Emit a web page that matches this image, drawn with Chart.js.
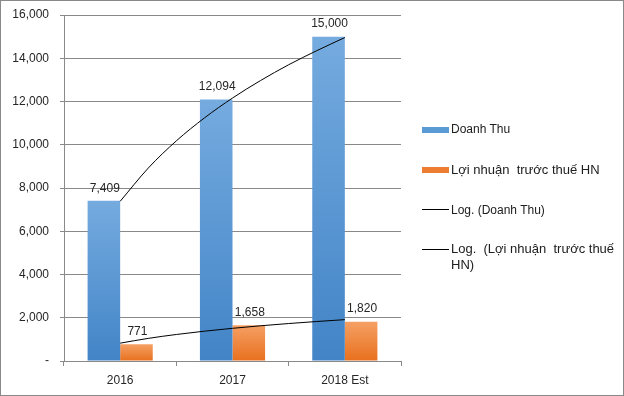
<!DOCTYPE html>
<html>
<head>
<meta charset="utf-8">
<script src="https://cdn.jsdelivr.net/npm/chart.js@4"></script>
<style>
  html, body { margin: 0; padding: 0; background: #fff; }
  #wrap { position: relative; width: 624px; height: 396px; font-family: "Liberation Sans", Arial, sans-serif; color: #404040; }
  #frame { position: absolute; left: 0; top: 0; width: 624px; height: 396px; box-sizing: border-box; border: 1px solid #898989; pointer-events: none; }
  #chart { position: absolute; left: 0; top: 0; }
  .lg-box { position: absolute; left: 422px; width: 27px; height: 6px; }
  .lg-line { position: absolute; left: 422px; width: 27px; height: 1px; background: #000; }
  .lg-text { position: absolute; left: 451px; line-height: 16px; white-space: nowrap; color: #202020; }
</style>
</head>
<body>
<div id="wrap">
  <canvas id="chart" width="624" height="396"></canvas>
  <div class="lg-box" style="top:127px;background:#5b9bd5;"></div>
  <div class="lg-text" style="top:121px;font-size:12px;">Doanh Thu</div>
  <div class="lg-box" style="top:167px;background:#ed7d31;"></div>
  <div class="lg-text" style="top:162px;font-size:13px;">Lợi nhuận&nbsp; trước thuế HN</div>
  <div class="lg-line" style="top:209px;"></div>
  <div class="lg-text" style="top:202px;font-size:12px;">Log. (Doanh Thu)</div>
  <div class="lg-line" style="top:249px;"></div>
  <div class="lg-text" style="top:241px;font-size:13px;">Log.&nbsp; (Lợi nhuận&nbsp; trước thuế<br>HN)</div>
  <div id="frame"></div>
</div>
<script>
const categories = ["2016", "2017", "2018 Est"];
const doanhThu = [7409, 12094, 15000];
const loiNhuan = [771, 1658, 1820];
// logarithmic trendlines at steps along the category axis
// (1 = 2016, 2 = 2017, 3 = 2018 Est)
const trendX = [1, 1.25, 1.5, 1.75, 2, 2.25, 2.5, 2.75, 3];
const trendDoanhThu = [7384, 8920, 10180, 11240, 12160, 12970, 13700, 14350, 14957];
const trendLoiNhuan = [825, 1046, 1226, 1379, 1511, 1628, 1732, 1826, 1912];
const yMin = 0;
const yMax = 16000;
const yStep = 2000;

const gridColor = "#898989";
const fontFamily = "'Liberation Sans', Arial, sans-serif";

function barGradient(top, bottom) {
    return function (ctx) {
        const chart = ctx.chart;
        if (!chart.chartArea || !ctx.raw) return top;
        const y = chart.scales.y;
        const y0 = y.getPixelForValue(ctx.raw.y);
        const y1 = y.getPixelForValue(0);
        const g = chart.ctx.createLinearGradient(0, y0, 0, y1);
        g.addColorStop(0, top);
        g.addColorStop(1, bottom);
        return g;
    };
}

const valueLabels = {
    id: "valueLabels",
    afterDatasetsDraw(chart) {
        const c = chart.ctx;
        c.save();
        c.font = "12px " + fontFamily;
        c.fillStyle = "#262626";
        c.textAlign = "center";
        c.textBaseline = "middle";
        [0, 1].forEach(function (di) {
            const meta = chart.getDatasetMeta(di);
            meta.data.forEach(function (bar, i) {
                const v = chart.data.datasets[di].data[i].y;
                c.fillText(v.toLocaleString("en-US"), bar.x + 1, bar.y - 12.5);
            });
        });
        c.restore();
    }
};

function barSet(label, values, top, bottom) {
    return {
        label: label,
        data: values.map(function (v, i) { return { x: i + 1, y: v }; }),
        backgroundColor: barGradient(top, bottom),
        categoryPercentage: 0.58,
        barPercentage: 1,
        order: 1
    };
}

function trendLine(label, values) {
    return {
        type: "line",
        label: label,
        data: trendX.map(function (x, i) { return { x: x, y: values[i] }; }),
        borderColor: "#000",
        borderWidth: 1,
        pointRadius: 0,
        fill: false,
        cubicInterpolationMode: "monotone",
        order: 0
    };
}

new Chart(document.getElementById("chart"), {
    type: "bar",
    data: {
        datasets: [
            barSet("Doanh Thu", doanhThu, "#75abdf", "#4284c7"),
            barSet("Lợi nhuận trước thuế HN", loiNhuan, "#f5a064", "#e8701e"),
            trendLine("Log. (Doanh Thu)", trendDoanhThu),
            trendLine("Log. (Lợi nhuận trước thuế HN)", trendLoiNhuan)
        ]
    },
    options: {
        responsive: false,
        animation: false,
        layout: { padding: { top: 15, right: 223, left: 0, bottom: 0 } },
        plugins: {
            legend: { display: false },
            tooltip: { enabled: false }
        },
        scales: {
            x: {
                type: "linear",
                min: 0.5,
                max: categories.length + 0.5,
                offset: false,
                grid: { display: true, drawOnChartArea: false, drawTicks: true, tickLength: 5, offset: true, color: gridColor },
                border: { display: true, color: gridColor },
                ticks: {
                    color: "#262626",
                    padding: 7,
                    maxRotation: 0,
                    font: { family: fontFamily, size: 12 },
                    callback: function (v) { return categories[v - 1]; }
                },
                afterBuildTicks: function (scale) {
                    scale.ticks = categories.map(function (c, i) { return { value: i + 1 }; });
                },
                afterFit: function (scale) { scale.height = 35; scale.paddingLeft = 0; scale.paddingRight = 0; }
            },
            y: {
                min: yMin,
                max: yMax,
                grid: { color: gridColor, tickLength: 4 },
                border: { display: true, color: gridColor },
                ticks: {
                    stepSize: yStep,
                    padding: 11,
                    color: "#262626",
                    font: { family: fontFamily, size: 12 },
                    callback: function (v) { return v === 0 ? "-" : v.toLocaleString("en-US"); }
                },
                afterFit: function (scale) { scale.width = 64; scale.paddingTop = 0; scale.paddingBottom = 0; }
            }
        }
    },
    plugins: [valueLabels]
});
</script>
</body>
</html>
